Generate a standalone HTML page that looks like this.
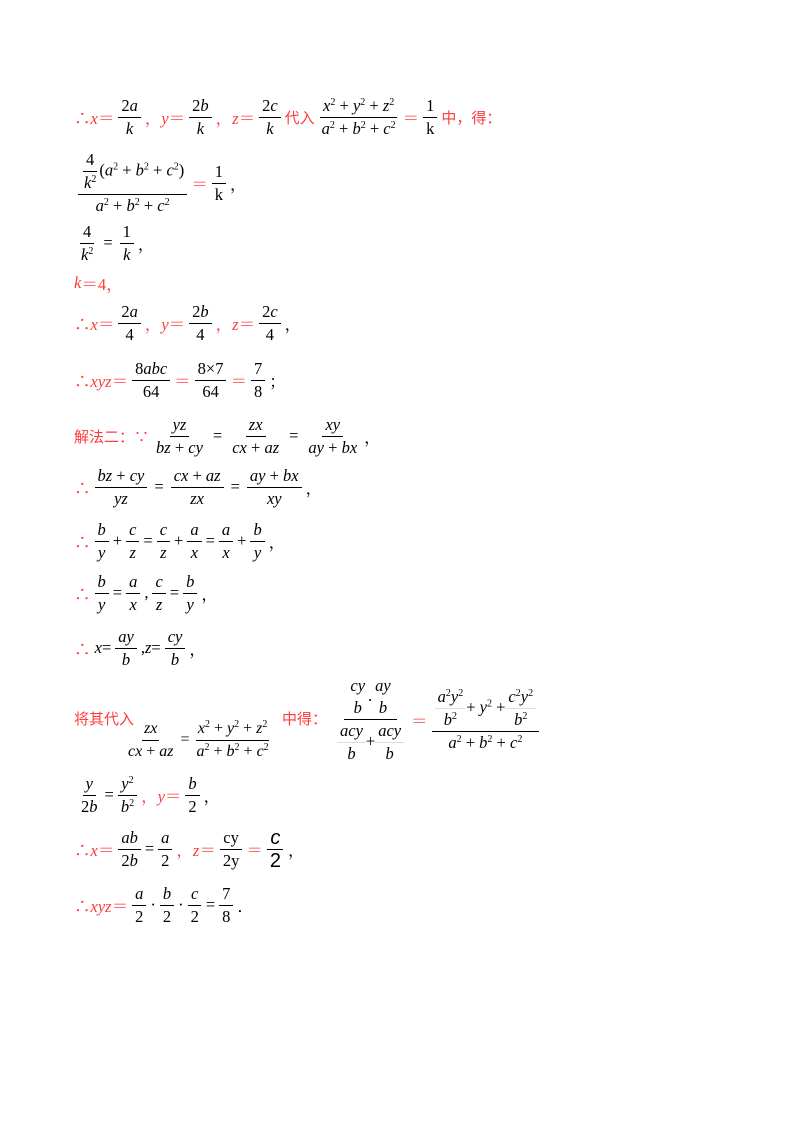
<!DOCTYPE html>
<html><head><meta charset="utf-8">
<style>
body{margin:0;width:800px;height:1132px;background:#fff;position:relative;font-family:"Liberation Serif","Noto Serif CJK SC",serif;font-size:16.5px;color:#000}
.r{position:absolute;left:74px;height:60px;display:flex;align-items:center;white-space:nowrap}
.red{color:#ff3b3b}
.cn{font-family:"Liberation Sans","Noto Sans CJK SC",sans-serif;font-size:15px;color:#ff3b3b}
i{font-style:italic}
.f{display:inline-flex;flex-direction:column;align-items:center;vertical-align:middle;margin:0 4px;line-height:22px}
.f>span:first-child{border-bottom:1px solid #000;padding:0 3px}
.f>span{padding:0 3px}
sup{font-size:10px;vertical-align:6px;line-height:0}
.op{margin:0 3px}
.tight .f{margin:0 2px}
.tight .f>span{padding:0 2px}
</style></head><body>
<div class="r" style="top:87px"><span class="red">∴<i>x</i>＝</span><span class="f"><span>2<i>a</i></span><span><i>k</i></span></span><span class="red">，<i>y</i>＝</span><span class="f"><span>2<i>b</i></span><span><i>k</i></span></span><span class="red">，<i>z</i>＝</span><span class="f"><span>2<i>c</i></span><span><i>k</i></span></span><span class="cn">代入</span><span class="f"><span><i>x</i><sup>2</sup> + <i>y</i><sup>2</sup> + <i>z</i><sup>2</sup></span><span><i>a</i><sup>2</sup> + <i>b</i><sup>2</sup> + <i>c</i><sup>2</sup></span></span><span class="red">＝</span><span class="f"><span>1</span><span>k</span></span><span class="cn">中，得：</span></div>

<div class="r" style="top:153px"><span class="f"><span><span class="f" style="margin:0"><span style="border-bottom:1px solid #000">4</span><span><i>k</i><sup>2</sup></span></span>(<i>a</i><sup>2</sup> + <i>b</i><sup>2</sup> + <i>c</i><sup>2</sup>)</span><span><i>a</i><sup>2</sup> + <i>b</i><sup>2</sup> + <i>c</i><sup>2</sup></span></span><span class="red">＝</span><span class="f"><span>1</span><span>k</span></span>，</div>

<div class="r" style="top:213px"><span class="f"><span>4</span><span><i>k</i><sup>2</sup></span></span><span class="op">=</span><span class="f"><span>1</span><span><i>k</i></span></span>，</div>

<div class="r red" style="top:253px"><i>k</i>＝4，</div>

<div class="r" style="top:293px"><span class="red">∴<i>x</i>＝</span><span class="f"><span>2<i>a</i></span><span>4</span></span><span class="red">，<i>y</i>＝</span><span class="f"><span>2<i>b</i></span><span>4</span></span><span class="red">，<i>z</i>＝</span><span class="f"><span>2<i>c</i></span><span>4</span></span>，</div>

<div class="r" style="top:350px"><span class="red">∴<i>xyz</i>＝</span><span class="f"><span>8<i>abc</i></span><span>64</span></span><span class="red">＝</span><span class="f"><span>8×7</span><span>64</span></span><span class="red">＝</span><span class="f"><span>7</span><span>8</span></span>；</div>

<div class="r" style="top:406px"><span class="cn">解法二：∵</span><span class="f"><span><i>yz</i></span><span><i>bz</i> + <i>cy</i></span></span><span class="op">=</span><span class="f"><span><i>zx</i></span><span><i>cx</i> + <i>az</i></span></span><span class="op">=</span><span class="f"><span><i>xy</i></span><span><i>ay</i> + <i>bx</i></span></span>，</div>

<div class="r" style="top:457px"><span class="red">∴</span><span class="f"><span><i>bz</i> + <i>cy</i></span><span><i>yz</i></span></span><span class="op">=</span><span class="f"><span><i>cx</i> + <i>az</i></span><span><i>zx</i></span></span><span class="op">=</span><span class="f"><span><i>ay</i> + <i>bx</i></span><span><i>xy</i></span></span>，</div>

<div class="r" style="top:511px"><span class="red">∴</span><span class="f"><span><i>b</i></span><span><i>y</i></span></span>+<span class="f"><span><i>c</i></span><span><i>z</i></span></span>=<span class="f"><span><i>c</i></span><span><i>z</i></span></span>+<span class="f"><span><i>a</i></span><span><i>x</i></span></span>=<span class="f"><span><i>a</i></span><span><i>x</i></span></span>+<span class="f"><span><i>b</i></span><span><i>y</i></span></span>，</div>

<div class="r" style="top:563px"><span class="red">∴</span><span class="f"><span><i>b</i></span><span><i>y</i></span></span>=<span class="f"><span><i>a</i></span><span><i>x</i></span></span>,<span class="f"><span><i>c</i></span><span><i>z</i></span></span>=<span class="f"><span><i>b</i></span><span><i>y</i></span></span>，</div>

<div class="r" style="top:618px"><span class="red">∴</span>&nbsp;<i>x</i> =<span class="f"><span><i>ay</i></span><span><i>b</i></span></span>,<i>z</i> =<span class="f"><span><i>cy</i></span><span><i>b</i></span></span>，</div>

<div class="r cn" style="top:698px;left:74px;height:40px">将其代入</div>
<div class="r tight" style="top:710px;left:124px;font-size:16px"><span class="f"><span><i>zx</i></span><span><i>cx</i> + <i>az</i></span></span><span class="op">=</span><span class="f"><span><i>x</i><sup>2</sup> + <i>y</i><sup>2</sup> + <i>z</i><sup>2</sup></span><span><i>a</i><sup>2</sup> + <i>b</i><sup>2</sup> + <i>c</i><sup>2</sup></span></span></div>
<div class="r cn" style="top:698px;left:282px;height:40px">中得：</div>
<div class="r" style="top:680px;left:330px;height:80px"><span class="f"><span><span class="f" style="margin:0"><span style="border:0"><i>cy</i></span><span><i>b</i></span></span>.<span class="f" style="margin:0"><span style="border:0"><i>ay</i></span><span><i>b</i></span></span></span><span><span class="f" style="margin:0"><span style="border-bottom:1px solid #ddd"><i>acy</i></span><span><i>b</i></span></span>+<span class="f" style="margin:0"><span style="border-bottom:1px solid #ddd"><i>acy</i></span><span><i>b</i></span></span></span></span><span class="red">＝</span><span class="f"><span style="border-bottom:1px solid #000"><span class="f" style="margin:0"><span style="border-bottom:1px solid #ddd"><i>a</i><sup>2</sup><i>y</i><sup>2</sup></span><span><i>b</i><sup>2</sup></span></span>+ <i>y</i><sup>2</sup> +<span class="f" style="margin:0"><span style="border-bottom:1px solid #ddd"><i>c</i><sup>2</sup><i>y</i><sup>2</sup></span><span><i>b</i><sup>2</sup></span></span></span><span><i>a</i><sup>2</sup> + <i>b</i><sup>2</sup> + <i>c</i><sup>2</sup></span></span></div>

<div class="r" style="top:765px"><span class="f"><span><i>y</i></span><span>2<i>b</i></span></span>=<span class="f"><span><i>y</i><sup>2</sup></span><span><i>b</i><sup>2</sup></span></span><span class="red">，<i>y</i>＝</span><span class="f"><span><i>b</i></span><span>2</span></span>，</div>

<div class="r" style="top:819px"><span class="red">∴<i>x</i>＝</span><span class="f"><span><i>ab</i></span><span>2<i>b</i></span></span>=<span class="f"><span><i>a</i></span><span>2</span></span><span class="red">，<i>z</i>＝</span><span class="f"><span>cy</span><span>2y</span></span><span class="red">＝</span><span class="f" style="font-family:'Liberation Sans',sans-serif;font-size:20px"><span><i>c</i></span><span>2</span></span>，</div>

<div class="r" style="top:875px"><span class="red">∴<i>xyz</i>＝</span><span class="f"><span><i>a</i></span><span>2</span></span>·<span class="f"><span><i>b</i></span><span>2</span></span>·<span class="f"><span><i>c</i></span><span>2</span></span>=<span class="f"><span>7</span><span>8</span></span>．</div>
</body></html>
